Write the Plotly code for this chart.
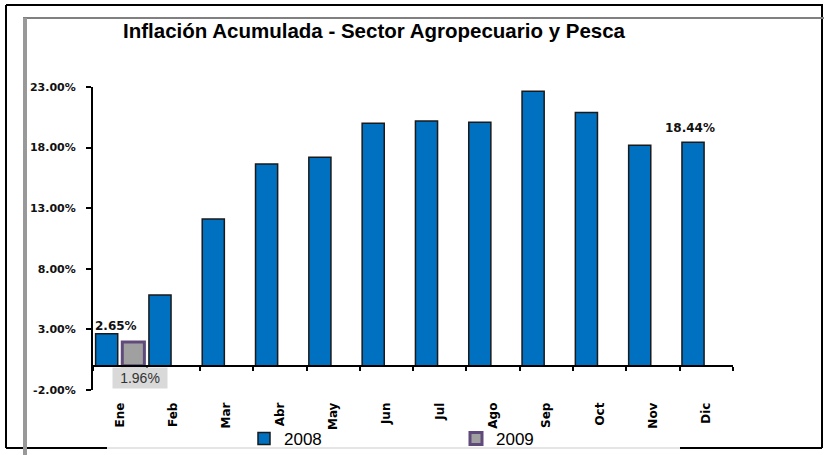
import plotly.graph_objects as go

meses = ['Ene', 'Feb', 'Mar', 'Abr', 'May', 'Jun', 'Jul', 'Ago', 'Sep', 'Oct', 'Nov', 'Dic']
v2008 = [2.65, 5.84, 12.1, 16.65, 17.2, 20.0, 20.2, 20.1, 22.65, 20.9, 18.2, 18.44]
v2009 = [1.96, None, None, None, None, None, None, None, None, None, None, None]
y_ticks = [-2, 3, 8, 13, 18, 23]
y_tick_text = ['%.2f%%' % v for v in y_ticks]
titulo = 'Inflación Acumulada - Sector Agropecuario y Pesca'

YMIN, YMAX = -2, 23
FW, FH = 824, 455
L, R, T, B = 93, 733, 87, 390
W, H = R - L, B - T

def px(x):
    return (x - L) / W

def py(y):
    return (B - y) / H

fig = go.Figure()
fig.add_trace(go.Bar(
    x=meses, y=v2008, name='2008',
    marker=dict(color='#0070C0', line=dict(color='#1a1a1a', width=1.5)),
))
fig.add_trace(go.Bar(
    x=meses, y=v2009, name='2009',
    marker=dict(color='#A0A0A0', line=dict(color='#604A7B', width=3)),
))

shapes = []
def line(x0, y0, x1, y1, color, width):
    shapes.append(dict(type='line', xref='paper', yref='paper',
                       x0=px(x0), y0=py(y0), x1=px(x1), y1=py(y1),
                       line=dict(color=color, width=width)))

# outer frame
line(6, 5, 823, 5, '#000000', 2)
line(6, 5, 6, 448, '#000000', 2)
line(822, 5, 822, 448, '#000000', 2)
line(6, 448, 107, 448, '#000000', 2)
line(107, 448, 680, 448, '#DDDDDD', 1.5)
line(680, 448, 822, 448, '#000000', 2)
# inner gray frame
line(23, 18, 824, 18, '#808080', 2)
line(25, 18, 25, 456, '#999999', 4)

lab_font = dict(family='DejaVu Sans', size=12, color='#111111', weight='bold')
annotations = [
    dict(x='Ene', y=v2008[0], xref='x', yref='y', text='%.2f%%' % v2008[0],
         showarrow=False, yanchor='bottom', xshift=-4, yshift=-1, font=lab_font),
    dict(x='Dic', y=v2008[11], xref='x', yref='y', text='%.2f%%' % v2008[11],
         showarrow=False, yanchor='bottom', xshift=-16, yshift=5, font=lab_font),
    dict(x='Ene', y=0, xref='x', yref='y', text='%.2f%%' % v2009[0],
         showarrow=False, yanchor='top', xshift=20, yshift=-1,
         bgcolor='#D9D9D9', borderpad=2, width=50,
         font=dict(family='Liberation Sans', size=14, color='#333333')),
    dict(x=px(374), y=py(31), xref='paper', yref='paper', text=titulo,
         showarrow=False, xanchor='center', yanchor='middle',
         font=dict(family='Liberation Sans', size=20.5, color='#000000', weight='bold')),
]

fig.update_layout(
    width=FW, height=FH,
    margin=dict(l=L, r=FW - R, t=T, b=FH - B, autoexpand=False),
    paper_bgcolor='white', plot_bgcolor='white',
    barmode='group', bargap=0.0, bargroupgap=0.17,
    showlegend=True,
    legend=dict(orientation='h', x=px(244), y=py(439), xanchor='left', yanchor='middle',
                entrywidth=167, entrywidthmode='pixels',
                font=dict(family='Liberation Sans', size=17, color='#000000'),
                bgcolor='rgba(0,0,0,0)', itemclick=False),
    xaxis=dict(anchor='free', position=(0 - YMIN) / (YMAX - YMIN),
               showline=True, linecolor='#000000', linewidth=2,
               ticks='outside', ticklen=4, tickwidth=2, tickcolor='#000000',
               tickson='boundaries', tickangle=-90, ticklabelstandoff=31,
               tickfont=dict(family='DejaVu Sans', size=12, color='#000000', weight='bold'),
               showgrid=False, zeroline=False, fixedrange=True, automargin=False),
    yaxis=dict(range=[YMIN, YMAX], tickvals=y_ticks, ticktext=y_tick_text,
               showline=True, linecolor='#000000', linewidth=2,
               ticks='outside', ticklen=5, tickwidth=2, tickcolor='#000000',
               ticklabelstandoff=8,
               tickfont=dict(family='DejaVu Sans', size=11, color='#111111', weight='bold'),
               showgrid=False, zeroline=False, fixedrange=True, automargin=False),
    shapes=shapes,
    annotations=annotations,
)

fig.write_html('out.html', config={'displayModeBar': False},
               post_script="document.body.style.margin='0';")
